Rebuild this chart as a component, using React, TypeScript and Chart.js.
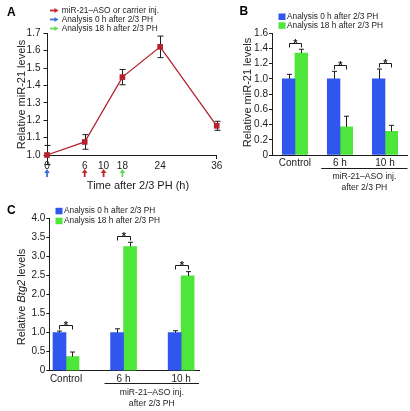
import React, { useEffect, useRef } from 'react';
import { Chart, registerables } from 'chart.js';

Chart.register(...registerables);

const FONT = '"Liberation Sans", Arial, Helvetica, sans-serif';
const INK = '#1c1c1c';
const RED = '#B4202D';
const BLUE = '#2F57EE';
const GREEN = '#4EE63A';
const ARROW_RED = '#C0262E';
const ARROW_BLUE = '#3D6FD8';
const ARROW_GREEN = '#62DA55';

// ---------- Panel A: miR-21 time course after 2/3 PH ----------
const timeSlots = ['0', '', '6', '10', '18', '', '24', '', '', '36'];
const timeHours = ['0', '6', '18', '24', '36'];
const mir21Levels = [1.0, 1.075, 1.448, 1.622, 1.168];
const mir21Errors = [0.055, 0.042, 0.044, 0.062, 0.026];
const injectionTimes = ['6', '10'];
const analysis0Times = ['0'];
const analysis18Times = ['18'];
const aYTicks = [1.0, 1.1, 1.2, 1.3, 1.4, 1.5, 1.6, 1.7];
const legendA = ['miR-21–ASO or carrier inj.', 'Analysis 0 h after 2/3 PH', 'Analysis 18 h after 2/3 PH'];
const aXTitle = 'Time after 2/3 PH (h)';
const aYTitle = 'Relative miR-21 levels';

// ---------- Panels B and C ----------
const groups = ['Control', '6 h', '10 h'];
const barLegend = ['Analysis 0 h after 2/3 PH', 'Analysis 18 h after 2/3 PH'];
const groupCaption = ['miR-21–ASO inj.', 'after 2/3 PH'];

const mir21At0 = [1.0, 1.0, 1.0];
const mir21At0Err = [0.06, 0.1, 0.13];
const mir21At18 = [1.34, 0.37, 0.31];
const mir21At18Err = [0.05, 0.14, 0.08];
const bYTicks = [0, 0.2, 0.4, 0.6, 0.8, 1.0, 1.2, 1.4, 1.6];

const btg2At0 = [1.0, 1.0, 1.0];
const btg2At0Err = [0.04, 0.1, 0.05];
const btg2At18 = [0.37, 3.26, 2.49];
const btg2At18Err = [0.12, 0.11, 0.11];
const cYTicks = [0, 0.5, 1.0, 1.5, 2.0, 2.5, 3.0, 3.5, 4.0];

const significant = [true, true, true];

function fmtTick(v: number) {
  return v === 0 ? '0' : v.toFixed(1);
}

function drawText(
  ctx: CanvasRenderingContext2D,
  s: string,
  x: number,
  y: number,
  size: number,
  opts: { bold?: boolean; italic?: boolean; align?: CanvasTextAlign; color?: string; baseline?: CanvasTextBaseline } = {}
) {
  ctx.save();
  ctx.font = `${opts.italic ? 'italic ' : ''}${opts.bold ? 'bold ' : ''}${size}px ${FONT}`;
  ctx.fillStyle = opts.color || INK;
  ctx.textAlign = opts.align || 'left';
  ctx.textBaseline = opts.baseline || 'middle';
  ctx.fillText(s, x, y);
  ctx.restore();
}

function drawRotatedTitle(
  ctx: CanvasRenderingContext2D,
  parts: { t: string; italic?: boolean }[],
  cx: number,
  cy: number,
  size: number
) {
  ctx.save();
  ctx.translate(cx, cy);
  ctx.rotate(-Math.PI / 2);
  ctx.fillStyle = INK;
  ctx.textBaseline = 'middle';
  ctx.textAlign = 'left';
  const widths = parts.map((p) => {
    ctx.font = `${p.italic ? 'italic ' : ''}${size}px ${FONT}`;
    return ctx.measureText(p.t).width;
  });
  const total = widths.reduce((a, b) => a + b, 0);
  let x = -total / 2;
  parts.forEach((p, i) => {
    ctx.font = `${p.italic ? 'italic ' : ''}${size}px ${FONT}`;
    ctx.fillText(p.t, x, 0);
    x += widths[i];
  });
  ctx.restore();
}

function upArrow(ctx: CanvasRenderingContext2D, x: number, top: number, bottom: number, color: string) {
  ctx.save();
  ctx.fillStyle = color;
  ctx.strokeStyle = color;
  ctx.lineWidth = 1.8;
  ctx.beginPath();
  ctx.moveTo(x, bottom);
  ctx.lineTo(x, top + 3);
  ctx.stroke();
  ctx.beginPath();
  ctx.moveTo(x, top);
  ctx.lineTo(x - 2.8, top + 4);
  ctx.lineTo(x + 2.8, top + 4);
  ctx.closePath();
  ctx.fill();
  ctx.restore();
}

function rightArrow(ctx: CanvasRenderingContext2D, left: number, right: number, y: number, color: string) {
  ctx.save();
  ctx.fillStyle = color;
  ctx.strokeStyle = color;
  ctx.lineWidth = 1.8;
  ctx.beginPath();
  ctx.moveTo(left, y);
  ctx.lineTo(right - 3, y);
  ctx.stroke();
  ctx.beginPath();
  ctx.moveTo(right, y);
  ctx.lineTo(right - 4, y - 2.6);
  ctx.lineTo(right - 4, y + 2.6);
  ctx.closePath();
  ctx.fill();
  ctx.restore();
}

function makeLineChart(canvas: HTMLCanvasElement) {
  const plugin = {
    id: 'panelA',
    beforeDatasetsDraw(chart: any) {
      const ctx: CanvasRenderingContext2D = chart.ctx;
      const y = chart.scales.y;
      const meta = chart.getDatasetMeta(0);
      ctx.save();
      ctx.strokeStyle = INK;
      ctx.lineWidth = 1;
      meta.data.forEach((pt: any, i: number) => {
        const x = Math.round(pt.x) + 0.5;
        const t = y.getPixelForValue(mir21Levels[i] + mir21Errors[i]);
        const b = y.getPixelForValue(mir21Levels[i] - mir21Errors[i]);
        ctx.beginPath();
        ctx.moveTo(x, t);
        ctx.lineTo(x, b);
        ctx.moveTo(x - 3, t);
        ctx.lineTo(x + 3, t);
        ctx.moveTo(x - 3, b);
        ctx.lineTo(x + 3, b);
        ctx.stroke();
      });
      ctx.restore();
    },
    afterDraw(chart: any) {
      const ctx: CanvasRenderingContext2D = chart.ctx;
      const xs = chart.scales.x;
      drawText(ctx, 'A', 7, 12.5, 12, { bold: true, color: '#000' });
      const legendColors = [ARROW_RED, ARROW_BLUE, ARROW_GREEN];
      legendA.forEach((s, i) => {
        const yy = 10.5 + i * 9;
        rightArrow(ctx, 50, 58.5, yy, legendColors[i]);
        drawText(ctx, s, 61.7, yy, 8.3);
      });
      const arrowSets: [string[], string][] = [
        [analysis0Times, ARROW_BLUE],
        [injectionTimes, ARROW_RED],
        [analysis18Times, ARROW_GREEN],
      ];
      arrowSets.forEach(([times, color]) => {
        times.forEach((t) => {
          const px = xs.getPixelForValue(timeSlots.indexOf(t));
          upArrow(ctx, px, 169, 177, color);
        });
      });
      drawText(ctx, aXTitle, 138, 185.5, 11, { align: 'center' });
      drawRotatedTitle(ctx, [{ t: aYTitle }], 22, 94.5, 11);
    },
  };

  return new Chart(canvas, {
    type: 'line',
    data: {
      labels: timeSlots,
      datasets: [
        {
          data: timeHours.map((h, i) => ({ x: h, y: mir21Levels[i] })) as any,
          borderColor: RED,
          backgroundColor: RED,
          borderWidth: 1.3,
          tension: 0,
          pointStyle: 'rect',
          pointRadius: 4,
          pointBorderWidth: 0,
          pointBackgroundColor: RED,
          clip: false as any,
        },
      ],
    },
    options: {
      animation: false,
      responsive: false,
      devicePixelRatio: 1,
      events: [],
      layout: { padding: { left: 17, top: 33.3, right: 193.3, bottom: 236 } },
      plugins: { legend: { display: false }, tooltip: { enabled: false } },
      scales: {
        x: {
          type: 'category',
          offset: false,
          afterFit: (s: any) => {
            s.height = 20;
          },
          grid: {
            display: true,
            drawOnChartArea: false,
            drawTicks: true,
            tickLength: 4,
            color: (c: any) => (c.index === timeSlots.length - 1 ? INK : 'rgba(0,0,0,0)'),
          },
          border: { display: true, color: INK, width: 1 },
          ticks: {
            autoSkip: false,
            maxRotation: 0,
            padding: 1,
            color: INK,
            font: { family: FONT, size: 10 },
          },
        },
        y: {
          type: 'linear',
          min: aYTicks[0],
          max: aYTicks[aYTicks.length - 1],
          afterFit: (s: any) => {
            s.width = 30;
          },
          afterBuildTicks: (s: any) => {
            s.ticks = aYTicks.map((v) => ({ value: v }));
          },
          grid: { display: true, drawOnChartArea: false, drawTicks: true, tickLength: 3.5, color: INK },
          border: { display: true, color: INK, width: 1 },
          ticks: {
            padding: 3,
            color: INK,
            font: { family: FONT, size: 10 },
            callback: (v: any) => fmtTick(Number(v)),
          },
        },
      },
    },
    plugins: [plugin],
  } as any);
}

interface BarPanel {
  letter: string;
  letterX: number;
  letterY: number;
  at0: number[];
  at0Err: number[];
  at18: number[];
  at18Err: number[];
  yTicks: number[];
  yTitle: { t: string; italic?: boolean }[];
  yTitleX: number;
  yTitleY: number;
  padding: { left: number; top: number; right: number; bottom: number };
  xMin: number;
  xMax: number;
  legendX: number;
  legendY: number;
  legendDy: number;
  barThickness: number;
}

function makeBarChart(canvas: HTMLCanvasElement, p: BarPanel) {
  const plugin = {
    id: 'panel' + p.letter,
    afterDatasetsDraw(chart: any) {
      const ctx: CanvasRenderingContext2D = chart.ctx;
      const y = chart.scales.y;
      const m0 = chart.getDatasetMeta(0);
      const m1 = chart.getDatasetMeta(1);
      const vals = [p.at0, p.at18];
      const errs = [p.at0Err, p.at18Err];
      ctx.save();
      ctx.strokeStyle = INK;
      ctx.lineWidth = 1;
      [m0, m1].forEach((meta: any, d: number) => {
        meta.data.forEach((bar: any, i: number) => {
          const x = Math.round(bar.x) + 0.5;
          const t = y.getPixelForValue(vals[d][i] + errs[d][i]);
          ctx.beginPath();
          ctx.moveTo(x, bar.y);
          ctx.lineTo(x, t);
          ctx.moveTo(x - 2.5, t);
          ctx.lineTo(x + 2.5, t);
          ctx.stroke();
        });
      });
      // significance brackets
      groups.forEach((_, i) => {
        if (!significant[i]) return;
        const x0 = Math.round(m0.data[i].x) + 0.5;
        const x1 = Math.round(m1.data[i].x) + 0.5;
        const top = Math.min(
          y.getPixelForValue(p.at0[i] + p.at0Err[i]),
          y.getPixelForValue(p.at18[i] + p.at18Err[i])
        );
        const by = Math.round(top - 6.5) + 0.5;
        ctx.beginPath();
        ctx.moveTo(x0, by + 4);
        ctx.lineTo(x0, by);
        ctx.lineTo(x1, by);
        ctx.lineTo(x1, by + 4);
        ctx.stroke();
        drawText(ctx, '*', (x0 + x1) / 2, by + 3, 11, { bold: true, align: 'center', baseline: 'alphabetic' });
      });
      ctx.restore();
    },
    afterDraw(chart: any) {
      const ctx: CanvasRenderingContext2D = chart.ctx;
      const area = chart.chartArea;
      const m0 = chart.getDatasetMeta(0);
      drawText(ctx, p.letter, p.letterX, p.letterY, 12, { bold: true, color: '#000' });
      [BLUE, GREEN].forEach((c, i) => {
        const yy = p.legendY + i * p.legendDy;
        ctx.fillStyle = c;
        ctx.fillRect(p.legendX, yy - 3, 7, 6.5);
        drawText(ctx, barLegend[i], p.legendX + 8.5, yy, 8.3);
      });
      drawRotatedTitle(ctx, p.yTitle, p.yTitleX, p.yTitleY, 11);
      // group caption under the miR-21-ASO groups
      const bar1 = m0.data[1];
      const start = bar1.x - bar1.width / 2 - 6;
      const end = area.right;
      const ly = Math.round(area.bottom + 12.7) + 0.5;
      ctx.save();
      ctx.strokeStyle = INK;
      ctx.lineWidth = 1;
      ctx.beginPath();
      ctx.moveTo(start, ly);
      ctx.lineTo(end, ly);
      ctx.stroke();
      ctx.restore();
      const cx = (start + end) / 2;
      drawText(ctx, groupCaption[0], cx, area.bottom + 22, 8.6, { align: 'center' });
      drawText(ctx, groupCaption[1], cx, area.bottom + 33, 8.6, { align: 'center' });
    },
  };

  return new Chart(canvas, {
    type: 'bar',
    data: {
      datasets: [
        {
          data: p.at0.map((v, i) => ({ x: i, y: v })) as any,
          backgroundColor: BLUE,
          barThickness: p.barThickness,
        },
        {
          data: p.at18.map((v, i) => ({ x: i, y: v })) as any,
          backgroundColor: GREEN,
          barThickness: p.barThickness,
        },
      ],
    },
    options: {
      animation: false,
      responsive: false,
      devicePixelRatio: 1,
      events: [],
      layout: { padding: p.padding },
      plugins: { legend: { display: false }, tooltip: { enabled: false } },
      scales: {
        x: {
          type: 'linear',
          min: p.xMin,
          max: p.xMax,
          offset: false,
          afterFit: (s: any) => {
            s.height = 20;
          },
          afterBuildTicks: (s: any) => {
            s.ticks = groups.map((_, i) => ({ value: i }));
          },
          grid: { display: false, drawTicks: false, tickLength: 0 },
          border: { display: true, color: INK, width: 1 },
          ticks: {
            autoSkip: false,
            maxRotation: 0,
            padding: 2.5,
            color: INK,
            font: { family: FONT, size: 10 },
            callback: (v: any) => groups[Number(v)] ?? '',
          },
        },
        y: {
          type: 'linear',
          min: p.yTicks[0],
          max: p.yTicks[p.yTicks.length - 1],
          afterFit: (s: any) => {
            s.width = 30;
          },
          afterBuildTicks: (s: any) => {
            s.ticks = p.yTicks.map((v) => ({ value: v }));
          },
          grid: { display: true, drawOnChartArea: false, drawTicks: true, tickLength: 3, color: INK },
          border: { display: true, color: INK, width: 1 },
          ticks: {
            padding: 1,
            color: INK,
            font: { family: FONT, size: 10 },
            callback: (v: any) => fmtTick(Number(v)),
          },
        },
      },
    },
    plugins: [plugin],
  } as any);
}

const panelB: BarPanel = {
  letter: 'B',
  letterX: 239.5,
  letterY: 12,
  at0: mir21At0,
  at0Err: mir21At0Err,
  at18: mir21At18,
  at18Err: mir21At18Err,
  yTicks: bYTicks,
  yTitle: [{ t: 'Relative miR-21 levels' }],
  yTitleX: 247.5,
  yTitleY: 92.5,
  padding: { left: 242, top: 33.3, right: 2.5, bottom: 236 },
  xMin: -0.51,
  xMax: 2.5,
  legendX: 278.5,
  legendY: 16.5,
  legendDy: 8.8,
  barThickness: 12.7,
};

const panelC: BarPanel = {
  letter: 'C',
  letterX: 7,
  letterY: 211,
  at0: btg2At0,
  at0Err: btg2At0Err,
  at18: btg2At18,
  at18Err: btg2At18Err,
  yTicks: cYTicks,
  yTitle: [{ t: 'Relative ' }, { t: 'Btg2', italic: true }, { t: ' levels' }],
  yTitleX: 22,
  yTitleY: 297,
  padding: { left: 19.3, top: 218.3, right: 211, bottom: 20.3 },
  xMin: -0.29,
  xMax: 2.31,
  legendX: 55.5,
  legendY: 210.8,
  legendDy: 9.9,
  barThickness: 13,
};

export default function App() {
  const aRef = useRef<HTMLCanvasElement>(null);
  const bRef = useRef<HTMLCanvasElement>(null);
  const cRef = useRef<HTMLCanvasElement>(null);

  useEffect(() => {
    const charts = [
      makeLineChart(aRef.current!),
      makeBarChart(bRef.current!, panelB),
      makeBarChart(cRef.current!, panelC),
    ];
    return () => charts.forEach((c) => c.destroy());
  }, []);

  const layer: React.CSSProperties = { position: 'absolute', left: 0, top: 0, width: 410, height: 411 };
  return (
    <div style={{ position: 'fixed', left: 0, top: 0, width: 410, height: 411, background: '#fff', overflow: 'hidden' }}>
      <canvas ref={aRef} width={410} height={411} style={layer} />
      <canvas ref={bRef} width={410} height={411} style={layer} />
      <canvas ref={cRef} width={410} height={411} style={layer} />
    </div>
  );
}
